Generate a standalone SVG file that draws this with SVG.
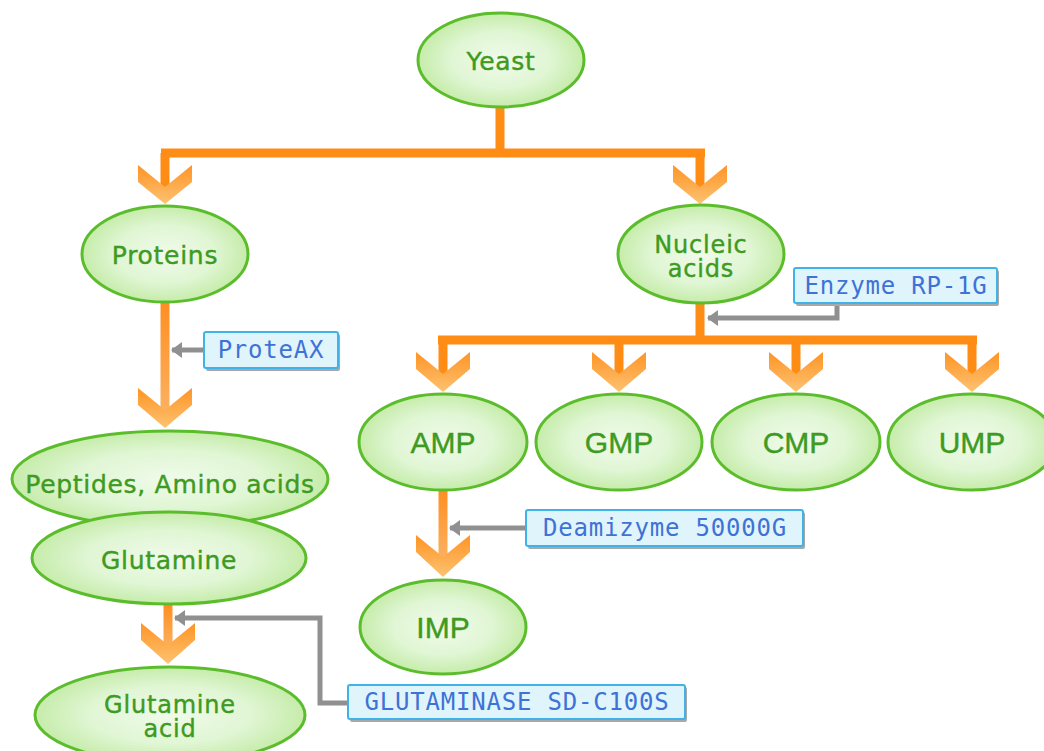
<svg xmlns="http://www.w3.org/2000/svg" width="1044" height="751" viewBox="0 0 1044 751">
<defs>
<radialGradient id="eg" cx="0.5" cy="0.5" r="0.5">
<stop offset="0" stop-color="#f0fbea"/>
<stop offset="0.6" stop-color="#e0f6d4"/>
<stop offset="1" stop-color="#c6ecaa"/>
</radialGradient>
<linearGradient id="cg" x1="0" y1="0" x2="0" y2="1">
<stop offset="0" stop-color="#ff9424"/>
<stop offset="1" stop-color="#fcc272"/>
</linearGradient>
<linearGradient id="vg" x1="0" y1="0" x2="0" y2="1">
<stop offset="0" stop-color="#ff8e22"/>
<stop offset="1" stop-color="#fbb262"/>
</linearGradient>
<marker id="ga" viewBox="0 0 11 16" refX="10" refY="8" markerWidth="11" markerHeight="16" markerUnits="userSpaceOnUse" orient="auto">
<path d="M0 0 L11 8 L0 16 Z" fill="#909090"/>
</marker>
<style>
.node ellipse{fill:url(#eg);stroke:#5cbd2c;stroke-width:3}
.t{font-family:"DejaVu Sans",sans-serif;font-size:25px;fill:#3f9a22;stroke:#3f9a22;stroke-width:0.4;text-anchor:middle;letter-spacing:0.7px}
.t2{font-family:"DejaVu Sans",sans-serif;font-size:24px;fill:#3f9a22;stroke:#3f9a22;stroke-width:0.4;text-anchor:middle;letter-spacing:0.8px}
.m{font-family:"Liberation Sans",Arial,sans-serif;font-size:30px;fill:#3f9a22;stroke:#3f9a22;stroke-width:0.4;text-anchor:middle}
.ol{stroke:#ff8c14;stroke-width:9;fill:none}
.lv{fill:url(#vg)}
.chev{fill:url(#cg)}
.gl{stroke:#909090;stroke-width:5;fill:none}
.box rect.b{fill:#e0f4fc;stroke:#3fb2ea;stroke-width:2}
.box rect.s{fill:#a8a8a8}
.bt{font-family:"DejaVu Sans Mono",monospace;font-size:24px;fill:#3e72d6;letter-spacing:0.8px;text-anchor:middle}
</style>
</defs>
<rect width="1044" height="751" fill="#ffffff"/>

<g id="connectors">
<path class="ol" d="M500 106 V153 M161 153 H705 M165 153 V188 M700 153 V188"/>
<polygon class="chev" points="138,165 165,187 192,165 192,182 165,204 138,182"/>
<polygon class="chev" points="673,165 700,187 727,165 727,182 700,204 673,182"/>
<rect class="lv" x="160.5" y="302" width="9" height="112"/>
<polygon class="chev" points="138,388 165,410 192,388 192,405 165,428 138,405"/>
<rect class="lv" x="163.5" y="604" width="9" height="46"/>
<polygon class="chev" points="141,623 168,645 195,623 195,640 168,664 141,640"/>
<path class="ol" d="M700 302 V340 M438 340 H977 M443 340 V375 M619 340 V375 M796 340 V375 M972 340 V375"/>
<polygon class="chev" points="416,352 443,374 470,352 470,369 443,392 416,369"/>
<polygon class="chev" points="592,352 619,374 646,352 646,369 619,392 592,369"/>
<polygon class="chev" points="769,352 796,374 823,352 823,369 796,392 769,369"/>
<polygon class="chev" points="945,352 972,374 999,352 999,369 972,392 945,369"/>
<rect class="lv" x="438.5" y="489" width="9" height="72"/>
<polygon class="chev" points="416,535 443,557 470,535 470,552 443,577 416,552"/>
<path class="gl" d="M204 350 H172" marker-end="url(#ga)"/>
<path class="gl" d="M837 304 V318 H708" marker-end="url(#ga)"/>
<path class="gl" d="M526 528 H450" marker-end="url(#ga)"/>
<path class="gl" d="M348 703 H320 V618 H175" marker-end="url(#ga)"/>
</g>

<g id="yeast" class="node"><ellipse cx="501" cy="60" rx="83" ry="47"/><text class="t" x="501" y="70">Yeast</text></g>
<g id="proteins" class="node"><ellipse cx="165" cy="254" rx="83" ry="48"/><text class="t" x="165" y="264">Proteins</text></g>
<g id="nucleic" class="node"><ellipse cx="701" cy="254" rx="83" ry="49"/><text class="t2" x="701" y="253">Nucleic</text><text class="t2" x="701" y="277">acids</text></g>
<g id="peptides" class="node"><ellipse cx="170" cy="479" rx="158" ry="48"/><text class="t" x="170" y="493">Peptides, Amino acids</text></g>
<g id="glutamine" class="node"><ellipse cx="169" cy="558" rx="137" ry="46"/><text class="t" x="169" y="569">Glutamine</text></g>
<g id="glutacid" class="node"><ellipse cx="170" cy="715" rx="135" ry="48"/><text class="t2" x="170" y="713">Glutamine</text><text class="t2" x="170" y="737">acid</text></g>
<g id="amp" class="node"><ellipse cx="443" cy="442" rx="84" ry="48"/><text class="m" x="443" y="453">AMP</text></g>
<g id="gmp" class="node"><ellipse cx="619" cy="442" rx="83" ry="48"/><text class="m" x="619" y="453">GMP</text></g>
<g id="cmp" class="node"><ellipse cx="796" cy="442" rx="84" ry="48"/><text class="m" x="796" y="453">CMP</text></g>
<g id="ump" class="node"><ellipse cx="972" cy="442" rx="84" ry="48"/><text class="m" x="972" y="453">UMP</text></g>
<g id="imp" class="node"><ellipse cx="443" cy="627" rx="83" ry="47"/><text class="m" x="443" y="638">IMP</text></g>

<g id="proteax" class="box"><rect class="s" x="206" y="334" width="134" height="37" rx="2"/><rect class="b" x="204" y="332" width="134" height="36" rx="2"/><text class="bt" x="271" y="358">ProteAX</text></g>
<g id="rp1g" class="box"><rect class="s" x="796" y="270" width="203" height="36" rx="2"/><rect class="b" x="794" y="268" width="203" height="35" rx="2"/><text class="bt" x="896" y="294">Enzyme RP-1G</text></g>
<g id="deamizyme" class="box"><rect class="s" x="528" y="512" width="277" height="37" rx="2"/><rect class="b" x="526" y="510" width="277" height="36" rx="2"/><text class="bt" x="665" y="536">Deamizyme 50000G</text></g>
<g id="glutaminase" class="box"><rect class="s" x="350" y="687" width="337" height="35" rx="2"/><rect class="b" x="348" y="685" width="337" height="34" rx="2"/><text class="bt" x="517" y="710">GLUTAMINASE SD-C100S</text></g>
</svg>
